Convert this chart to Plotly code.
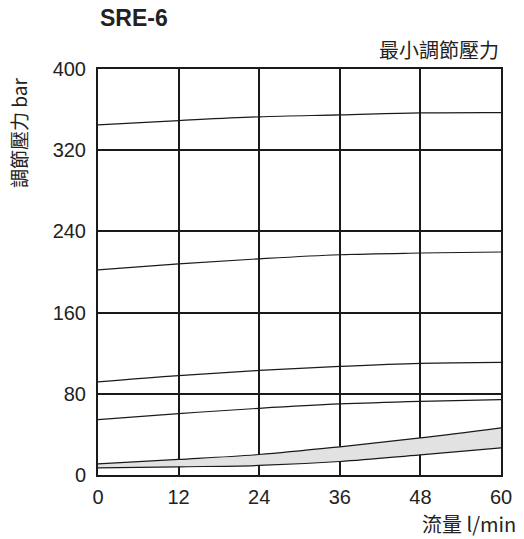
import plotly.graph_objects as go

flow = [0, 12, 24, 36, 48, 60]
curve_1 = [345, 349.2, 352.9, 354.8, 356.8, 357.1]
curve_2 = [202, 208, 213, 217, 218.7, 219.7]
curve_3 = [91.7, 97.9, 103, 107, 110, 111]
curve_4 = [54.6, 60.5, 65.7, 70, 72.6, 74.3]
min_upper = [11, 15.3, 20.2, 27.8, 36.6, 46.5]
min_lower = [7.1, 8.1, 9.4, 13.3, 19.9, 26.8]

x_ticks = [0, 12, 24, 36, 48, 60]
y_ticks = [0, 80, 160, 240, 320, 400]

title = "SRE-6"
band_label = "最小調節壓力"
y_title = "調節壓力 bar"
x_title = "流量 l/min"

line_col = "#1a1a1a"
fig = go.Figure()
fig.add_trace(go.Scatter(x=flow, y=min_lower, mode="lines", line=dict(color=line_col, width=1.2, shape="spline"), showlegend=False))
fig.add_trace(go.Scatter(x=flow, y=min_upper, mode="lines", fill="tonexty", fillcolor="#e2e2e2",
                         line=dict(color=line_col, width=1.2, shape="spline"), showlegend=False))
for c in [curve_1, curve_2, curve_3, curve_4]:
    fig.add_trace(go.Scatter(x=flow, y=c, mode="lines", line=dict(color=line_col, width=1.2, shape="spline"), showlegend=False))

cjk = "Noto Sans CJK TC"
latin = "Liberation Sans, Arial, sans-serif"

fig.update_layout(
    width=524, height=539,
    margin=dict(l=98, r=19, t=69, b=63.5),
    paper_bgcolor="white", plot_bgcolor="white",
    font=dict(family=latin, size=20, color="#222"),
    xaxis=dict(range=[0, 60], tickvals=x_ticks, showgrid=True, gridcolor="#1a1a1a", gridwidth=2,
               showline=True, linecolor="#1a1a1a", linewidth=2, mirror=True, zeroline=False,
               ticks="", ticklabelstandoff=3, tickfont=dict(size=20, family=latin)),
    yaxis=dict(range=[0, 400], tickvals=y_ticks, showgrid=True, gridcolor="#1a1a1a", gridwidth=2,
               showline=True, linecolor="#1a1a1a", linewidth=2, mirror=True, zeroline=False,
               ticks="", ticklabelstandoff=6, tickfont=dict(size=20, family=latin)),
    annotations=[
        dict(text="<b>" + title + "</b>", xref="paper", yref="paper", x=0.0, y=1.125,
             xanchor="left", yanchor="middle", showarrow=False, font=dict(size=23, family=latin, color="#222")),
        dict(text=band_label, xref="paper", yref="paper", x=1.0, y=1.047,
             xanchor="right", yanchor="middle", showarrow=False, font=dict(size=20, family=cjk, color="#222")),
        dict(text=y_title, xref="paper", yref="paper", x=-0.196, y=0.8426, textangle=-90,
             xanchor="center", yanchor="middle", showarrow=False, font=dict(size=19, family=cjk, color="#222")),
        dict(text=x_title, xref="paper", yref="paper", x=1.043, y=-0.12,
             xanchor="right", yanchor="middle", showarrow=False, font=dict(size=20, family=cjk, color="#222")),
    ],
)
fig.write_html("out.html", config={"displayModeBar": False},
               post_script="document.body.style.margin='0';")
